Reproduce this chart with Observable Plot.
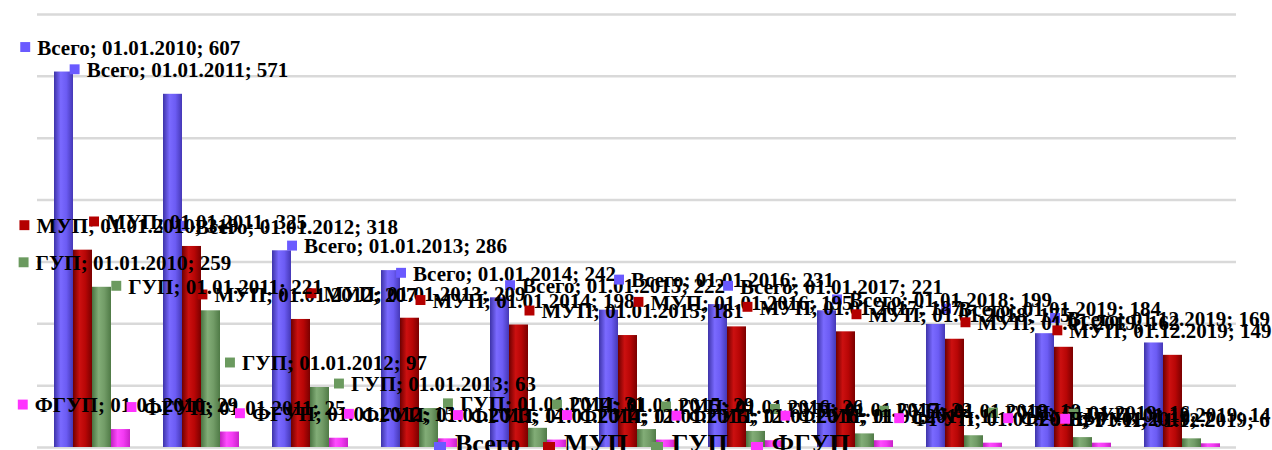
<!DOCTYPE html>
<html>
<head>
<meta charset="utf-8">
<script src="https://cdn.jsdelivr.net/npm/d3@7"></script>
<script src="https://cdn.jsdelivr.net/npm/@observablehq/plot@0.6"></script>
<style>
  body { margin: 0; background: #fff; }
  #wrap { position: relative; width: 1272px; height: 450px; overflow: hidden; }
  #legend { position: absolute; left: 434px; top: 429px; display: flex; align-items: center;
            font: bold 26px "Liberation Serif", "Times New Roman", serif; color: #000; white-space: nowrap; }
  #legend .item { display: flex; align-items: center; margin-right: 23px; }
  #legend .sw { width: 12px; height: 12px; margin-right: 9px; margin-top: 8px; }
</style>
</head>
<body>
<div id="wrap"></div>
<script>
const dates = ["01.01.2010","01.01.2011","01.01.2012","01.01.2013","01.01.2014","01.01.2015",
               "01.01.2016","01.01.2017","01.01.2018","01.01.2019","01.12.2019"];
const seriesNames = ["Всего","МУП","ГУП","ФГУП"];
const vsego = [607,571,318,286,242,222,231,221,199,184,169];
const mup   = [319,325,207,209,198,181,195,187,175,162,149];
const gup   = [259,221,97,63,31,29,26,22,19,16,14];
const fgup  = [29,25,15,14,12,12,11,11,7,7,6];
const yTicks = [0,100,200,300,400,500,600,700];

const seriesValues = [vsego, mup, gup, fgup];
const keyColors = ["#6a5aff","#b40000","#6b9a5f","#ff33ff"];
const gradStops = [
  ["#3d33a8","#7a6aff","#6c5cf4","#4538b6"],
  ["#6e0000","#cc1010","#b80606","#7a0000"],
  ["#4a7442","#82ad77","#729c67","#4f7a46"],
  ["#c020c0","#ff4cff","#f33af3","#c822c8"]
];

const data = [];
seriesNames.forEach((s, si) => dates.forEach((d, di) =>
  data.push({date: d, series: s, value: seriesValues[si][di], si, di})));

const W = 1272, H = 450;
const mL = 37, mR = 36, mT = 14, mB = 3;
const fxStep = (W - mL - mR) / dates.length;
const xPadOuter = 0.75;
const xStep = fxStep / (seriesNames.length + 2 * xPadOuter);

const labelFont = 'bold 21px "Liberation Serif", "Times New Roman", serif';
const ctx = document.createElement("canvas").getContext("2d");
ctx.font = labelFont;

const marks = [
  Plot.ruleY(yTicks, {stroke: "#d9d9d9", strokeWidth: 2.5})
];
seriesNames.forEach((s, si) => {
  marks.push(Plot.barY(data.filter(d => d.si === si), {
    fx: "date", x: "series", y: "value", fill: `url(#grad${si})`
  }));
});
// data labels with legend keys, centered above bars
seriesNames.forEach((s, si) => {
  data.filter(d => d.si === si).forEach(d => {
    const text = `${d.series}; ${d.date}; ${d.value}`;
    const tw = ctx.measureText(text).width;
    const total = 10 + 7 + tw;
    const barCenter = mL + d.di * fxStep + xStep * (xPadOuter + si + 0.5);
    let left = barCenter + 6 - total / 2;
    left = Math.min(Math.max(left, 18), W - 2 - total);
    marks.push(Plot.dot([d], {
      fx: "date", x: "series", y: "value", symbol: "square", r: 5.6,
      fill: keyColors[si], stroke: "none", dx: left + 5 - barCenter, dy: -25
    }));
    marks.push(Plot.text([d], {
      fx: "date", x: "series", y: "value", text: () => text, textAnchor: "start",
      dx: left + 17 - barCenter, dy: -24, fill: "#000",
      fontSize: 21, fontWeight: "bold", fontFamily: '"Liberation Serif", "Times New Roman", serif'
    }));
  });
});

const chart = Plot.plot({
  width: W, height: H,
  marginLeft: mL, marginRight: mR, marginTop: mT, marginBottom: mB,
  fx: {domain: dates, padding: 0, axis: null},
  x: {domain: seriesNames, paddingInner: 0, paddingOuter: xPadOuter, axis: null},
  y: {domain: [0, 700], axis: null},
  style: {background: "#fff", overflow: "visible"},
  marks
});

const defs = d3.select(chart).insert("defs", ":first-child");
gradStops.forEach((st, i) => {
  const g = defs.append("linearGradient").attr("id", `grad${i}`)
    .attr("x1", 0).attr("x2", 1).attr("y1", 0).attr("y2", 0);
  [[0, st[0]], [0.35, st[1]], [0.65, st[2]], [1, st[3]]].forEach(([o, c]) =>
    g.append("stop").attr("offset", o).attr("stop-color", c));
});

const wrap = document.getElementById("wrap");
wrap.appendChild(chart);

const legend = document.createElement("div");
legend.id = "legend";
seriesNames.forEach((s, i) => {
  const item = document.createElement("div");
  item.className = "item";
  const sw = document.createElement("span");
  sw.className = "sw";
  sw.style.background = keyColors[i];
  const t = document.createElement("span");
  t.textContent = s;
  item.appendChild(sw); item.appendChild(t);
  legend.appendChild(item);
});
wrap.appendChild(legend);
</script>
</body>
</html>
